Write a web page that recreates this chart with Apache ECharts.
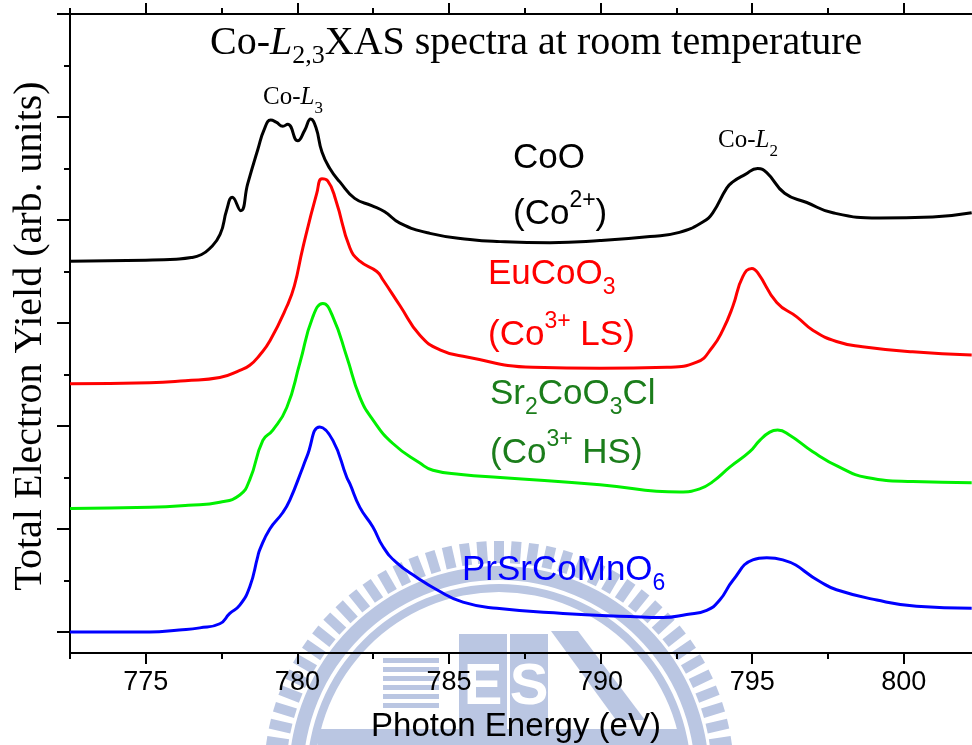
<!DOCTYPE html>
<html>
<head>
<meta charset="utf-8">
<script src="https://cdn.jsdelivr.net/npm/echarts@6/dist/echarts.min.js"></script>
<style>
  html, body { margin: 0; padding: 0; background: #fff; }
  #chart { width: 972px; height: 745px; }
</style>
</head>
<body>
<div id="chart"></div>
<script>
// Tick positions (photon energy in eV, intensity in arbitrary offset units)
const xMajorTicks = [775, 780, 785, 790, 795, 800];
const xMinorTicks = [772.5, 777.5, 782.5, 787.5, 792.5, 797.5];
const yMajorTicks = [0, 1, 2, 3, 4, 5, 6];
const yMinorTicks = [0.5, 1.5, 2.5, 3.5, 4.5, 5.5];

// CoO (Co2+)
const energyCoO = [772.5, 775.0, 776.0, 776.5, 776.8, 777.1, 777.45, 777.67, 777.85, 778.13, 778.36, 778.69, 778.92, 779.12, 779.3, 779.52, 779.68, 780.01, 780.24, 780.44, 780.61, 780.81, 781.07, 781.4, 781.89, 782.45, 782.88, 783.38, 784.37, 785.69, 786.69, 788.33, 789.98, 791.63, 792.6, 793.37, 793.7, 794.16, 794.36, 794.76, 795.18, 795.48, 796.07, 796.8, 797.66, 799.2, 800.95, 802.24];
const yieldCoO  = [3.60, 3.61, 3.62, 3.635, 3.66, 3.72, 3.86, 4.10, 4.22, 4.09, 4.35, 4.68, 4.89, 4.97, 4.95, 4.91, 4.93, 4.77, 4.87, 4.98, 4.90, 4.66, 4.50, 4.37, 4.21, 4.14, 4.08, 3.97, 3.87, 3.81, 3.79, 3.78, 3.80, 3.84, 3.88, 3.98, 4.07, 4.31, 4.37, 4.44, 4.50, 4.46, 4.26, 4.17, 4.07, 4.02, 4.03, 4.07];

// EuCoO3 (Co3+ low spin)
const energyEuCoO3 = [772.5, 775.13, 776.3, 777.44, 778.1, 778.43, 778.76, 779.1, 779.65, 779.9, 780.18, 780.64, 780.81, 781.0, 781.27, 781.73, 782.06, 782.62, 782.82, 783.38, 784.04, 784.7, 785.59, 787.77, 789.98, 792.19, 793.17, 793.7, 794.03, 794.36, 794.69, 794.99, 795.18, 795.81, 796.47, 797.0, 797.78, 798.64, 800.29, 802.24];
const yieldEuCoO3  = [2.41, 2.42, 2.44, 2.47, 2.54, 2.59, 2.69, 2.83, 3.16, 3.36, 3.73, 4.26, 4.40, 4.38, 4.19, 3.73, 3.60, 3.50, 3.42, 3.17, 2.88, 2.74, 2.67, 2.57, 2.56, 2.57, 2.62, 2.77, 2.93, 3.16, 3.45, 3.53, 3.49, 3.20, 3.06, 2.93, 2.82, 2.77, 2.72, 2.69];

// Sr2CoO3Cl (Co3+ high spin)
const energySr2CoO3Cl = [772.5, 775.13, 776.4, 777.44, 778.1, 778.43, 778.86, 779.19, 779.65, 780.08, 780.51, 780.84, 781.17, 781.63, 782.06, 782.49, 783.15, 784.04, 784.47, 785.4, 786.69, 789.98, 792.61, 793.27, 793.7, 794.26, 794.92, 795.25, 795.58, 795.84, 796.24, 797.0, 797.88, 798.78, 800.29, 802.24];
const yieldSr2CoO3Cl  = [1.20, 1.21, 1.23, 1.26, 1.33, 1.48, 1.86, 1.96, 2.18, 2.61, 3.06, 3.19, 3.06, 2.67, 2.28, 2.06, 1.83, 1.64, 1.57, 1.53, 1.50, 1.43, 1.36, 1.39, 1.46, 1.60, 1.75, 1.86, 1.94, 1.96, 1.91, 1.75, 1.60, 1.50, 1.46, 1.45];

// PrSrCoMnO6
const energyPrSrCoMnO6 = [772.5, 775.13, 776.1, 776.78, 777.44, 777.77, 778.1, 778.43, 778.69, 778.76, 779.09, 779.52, 779.75, 780.18, 780.31, 780.74, 781.17, 781.63, 781.73, 782.06, 782.49, 782.82, 783.28, 783.94, 784.6, 785.46, 786.58, 788.76, 790.97, 792.06, 792.84, 793.5, 793.93, 794.36, 795.02, 795.48, 796.01, 797.23, 797.78, 799.11, 800.42, 802.24];
const yieldPrSrCoMnO6  = [0.00, 0.00, 0.02, 0.04, 0.08, 0.18, 0.26, 0.44, 0.73, 0.80, 1.00, 1.16, 1.28, 1.60, 1.70, 1.99, 1.86, 1.50, 1.44, 1.21, 1.02, 0.83, 0.67, 0.53, 0.41, 0.29, 0.23, 0.18, 0.15, 0.14, 0.17, 0.21, 0.31, 0.50, 0.70, 0.72, 0.70, 0.49, 0.41, 0.31, 0.25, 0.23];

const SERIF = '"Liberation Serif", "Times New Roman", serif';
const SANS = '"Liberation Sans", Arial, sans-serif';

function pairs(xs, ys) {
  return xs.map((x, i) => [x, ys[i]]);
}

function spectrum(name, xs, ys, color) {
  return {
    name: name,
    type: 'line',
    data: pairs(xs, ys),
    showSymbol: false,
    smooth: 0.5,
    lineStyle: { color: color, width: 3 },
    z: 5
  };
}

// Faint university emblem printed behind the plot
function emblem() {
  const c = 'rgb(186,198,226)';
  const cx = 499, cy = 776;
  const els = [];
  const n = 84;
  for (let i = 0; i < n; i++) {
    els.push({
      type: 'rect', x: cx, y: cy, rotation: (i / n) * Math.PI * 2,
      shape: { x: -5, y: -235, width: 10, height: 22 },
      style: { fill: c }, z: -10, silent: true
    });
  }
  els.push({ type: 'ring', shape: { cx: cx, cy: cy, r: 210, r0: 196 }, style: { fill: c }, z: -10, silent: true });
  els.push({ type: 'ring', shape: { cx: cx, cy: cy, r: 192, r0: 184 }, style: { fill: c }, z: -10, silent: true });
  // striped block
  for (let k = 0; k < 6; k++) {
    els.push({ type: 'rect', shape: { x: 383, y: 658 + k * 9, width: 56, height: 5 }, style: { fill: c }, z: -10, silent: true });
  }
  // letter blocks
  els.push({ type: 'rect', shape: { x: 459, y: 634, width: 48, height: 96 }, style: { fill: c }, z: -10, silent: true });
  els.push({ type: 'rect', shape: { x: 510, y: 634, width: 38, height: 96 }, style: { fill: c }, z: -10, silent: true });
  els.push({ type: 'text', x: 483, y: 688, style: { text: 'E', font: 'bold 58px ' + SANS, fill: '#fff', align: 'center', verticalAlign: 'middle' }, z: -9, silent: true });
  els.push({ type: 'text', x: 529, y: 688, style: { text: 'S', font: 'bold 58px ' + SANS, fill: '#fff', align: 'center', verticalAlign: 'middle' }, z: -9, silent: true });
  els.push({ type: 'polygon', shape: { points: [[551, 631], [578, 631], [645, 720], [616, 720]] }, style: { fill: c }, z: -10, silent: true });
  els.push({ type: 'rect', shape: { x: 318, y: 729, width: 364, height: 30 }, style: { fill: c }, z: -10, silent: true });
  return els;
}

function label(x, y, text, rich) {
  return {
    type: 'text', x: x, y: y, z: 20, silent: true,
    style: { text: text, rich: rich, align: 'left', verticalAlign: 'middle' }
  };
}

function sansRich(color, subLH) {
  return {
    m: { fontSize: 35, fontFamily: SANS, fill: color, lineHeight: 50, verticalAlign: 'middle' },
    sub: { fontSize: 23, fontFamily: SANS, fill: color, lineHeight: subLH, verticalAlign: 'bottom' },
    sup: { fontSize: 23, fontFamily: SANS, fill: color, lineHeight: 28, verticalAlign: 'top' }
  };
}

const serifTitleRich = {
  m: { fontSize: 40, fontFamily: SERIF, fill: '#000', lineHeight: 52, verticalAlign: 'middle' },
  i: { fontSize: 40, fontFamily: SERIF, fontStyle: 'italic', fill: '#000', lineHeight: 52, verticalAlign: 'middle' },
  sub: { fontSize: 26, fontFamily: SERIF, fill: '#000', lineHeight: 18, verticalAlign: 'bottom' }
};
const serifNoteRich = {
  m: { fontSize: 25, fontFamily: SERIF, fill: '#000', lineHeight: 40, verticalAlign: 'middle' },
  i: { fontSize: 25, fontFamily: SERIF, fontStyle: 'italic', fill: '#000', lineHeight: 40, verticalAlign: 'middle' },
  sub: { fontSize: 17, fontFamily: SERIF, fill: '#000', lineHeight: 20, verticalAlign: 'bottom' }
};

const axisBase = {
  type: 'value', min: 772.5, max: 802.25, offset: 0,
  splitLine: { show: false }
};
const yBase = {
  type: 'value', min: -0.204, max: 6, offset: 0,
  splitLine: { show: false }, axisLabel: { show: false }
};
const lineStyle = { color: '#000', width: 2 };

const chart = echarts.init(document.getElementById('chart'), null, { renderer: 'canvas' });
chart.setOption({
  animation: false,
  backgroundColor: '#fff',
  grid: { left: 70, right: 0, top: 14, bottom: 92, containLabel: false, outerBoundsMode: 'none' },
  xAxis: [
    Object.assign({}, axisBase, {
      position: 'bottom',
      axisLine: { show: true, onZero: false, lineStyle: lineStyle },
      axisTick: { show: true, inside: false, length: 11, lineStyle: lineStyle, customValues: xMajorTicks },
      axisLabel: { show: true, customValues: xMajorTicks, fontSize: 27, fontFamily: SANS, color: '#000', margin: 16 }
    }),
    Object.assign({}, axisBase, {
      position: 'bottom',
      axisLine: { show: false, onZero: false },
      axisTick: { show: true, inside: false, length: 6, lineStyle: lineStyle, customValues: xMinorTicks },
      axisLabel: { show: false }
    }),
    Object.assign({}, axisBase, {
      position: 'top',
      axisLine: { show: true, onZero: false, lineStyle: lineStyle },
      axisTick: { show: true, inside: false, length: 11, lineStyle: lineStyle, customValues: xMajorTicks },
      axisLabel: { show: false }
    }),
    Object.assign({}, axisBase, {
      position: 'top',
      axisLine: { show: false, onZero: false },
      axisTick: { show: true, inside: false, length: 6, lineStyle: lineStyle, customValues: xMinorTicks },
      axisLabel: { show: false }
    })
  ],
  yAxis: [
    Object.assign({}, yBase, {
      position: 'left',
      axisLine: { show: true, onZero: false, lineStyle: lineStyle },
      axisTick: { show: true, inside: false, length: 13, lineStyle: lineStyle, customValues: yMajorTicks }
    }),
    Object.assign({}, yBase, {
      position: 'left',
      axisLine: { show: false, onZero: false },
      axisTick: { show: true, inside: false, length: 6, lineStyle: lineStyle, customValues: yMinorTicks }
    })
  ],
  series: [
    spectrum('CoO', energyCoO, yieldCoO, '#000000'),
    spectrum('EuCoO3', energyEuCoO3, yieldEuCoO3, '#ff0000'),
    spectrum('Sr2CoO3Cl', energySr2CoO3Cl, yieldSr2CoO3Cl, '#00f000'),
    spectrum('PrSrCoMnO6', energyPrSrCoMnO6, yieldPrSrCoMnO6, '#0000ff')
  ],
  graphic: emblem().concat([
    label(210, 43, '{m|Co-}{i|L}{sub|2,3}{m|XAS spectra at room temperature}', serifTitleRich),
    label(263, 97, '{m|Co-}{i|L}{sub|3}', serifNoteRich),
    label(718, 140, '{m|Co-}{i|L}{sub|2}', serifNoteRich),
    label(513, 158, '{m|CoO}', sansRich('#000', 16)),
    label(513, 214, '{m|(Co}{sup|2+}{m|)}', sansRich('#000', 16)),
    label(488, 274, '{m|EuCoO}{sub|3}', sansRich('#ff0000', 16)),
    label(488, 335, '{m|(Co}{sup|3+}{m| LS)}', sansRich('#ff0000', 16)),
    label(490, 394, '{m|Sr}{sub|2}{m|CoO}{sub|3}{m|Cl}', sansRich('#1b7d1b', 18)),
    label(490, 453, '{m|(Co}{sup|3+}{m| HS)}', sansRich('#1b7d1b', 16)),
    label(462, 570, '{m|PrSrCoMnO}{sub|6}', sansRich('#0000ff', 10)),
    {
      type: 'text', x: 30, y: 336, rotation: Math.PI / 2, z: 20, silent: true,
      style: { text: 'Total Electron Yield (arb. units)', font: '40px ' + SERIF, fill: '#000', align: 'center', verticalAlign: 'middle' }
    },
    {
      type: 'text', x: 516, y: 727, z: 20, silent: true,
      style: { text: 'Photon Energy (eV)', font: '33px ' + SANS, fill: '#000', align: 'center', verticalAlign: 'middle' }
    }
  ])
});
</script>
</body>
</html>
